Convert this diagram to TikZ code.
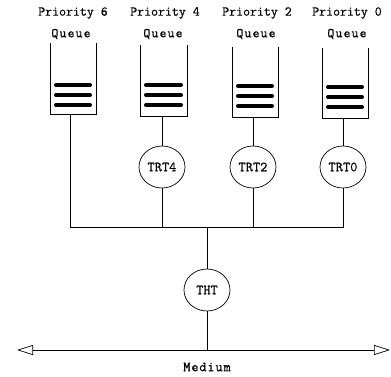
\documentclass[tikz,border=0pt]{standalone}
\usepackage{fontspec}
\newfontfamily\labfont[FakeBold=0.4]{Latin Modern Mono}
\newfontfamily\medfont[LetterSpace=6,FakeBold=0.4]{Latin Modern Mono}
\newfontfamily\qfont[LetterSpace=8,FakeBold=0.4]{Latin Modern Mono}
\usetikzlibrary{arrows.meta,shapes.geometric}
\begin{document}
\begin{tikzpicture}[x=1pt,y=-1pt,line width=0.7pt,
  timer/.style={draw,ellipse,minimum width=46pt,minimum height=42pt,inner sep=0pt,font=\labfont\fontsize{14}{14}\selectfont},
  lab/.style={font=\labfont\fontsize{13.5}{14}\selectfont,inner sep=0pt},
  qlab/.style={font=\qfont\fontsize{13.5}{14}\selectfont,inner sep=0pt},
  medlab/.style={font=\medfont\fontsize{14}{14}\selectfont,inner sep=0pt},
  qbar/.style={line width=4pt,line cap=round},
  qwall/.style={line width=0.7pt}]
\useasboundingbox (0,0) rectangle (391,377);
% labels
\node[lab] (p6) at (73,13) {Priority 6};
\node[lab] (p4) at (165,13) {Priority 4};
\node[lab] (p2) at (257,13) {Priority 2};
\node[lab] (p0) at (347,13) {Priority 0};
\node[qlab] (l6) at (71,34) {Queue};
\node[qlab] (l4) at (163,34) {Queue};
\node[qlab] (l2) at (256,34) {Queue};
\node[qlab] (l0) at (347,34) {Queue};
% queues: left, right, top, bottom, first bar y, stem x
\foreach \l/\r/\t/\b/\y/\n/\sx in {50/96/43/114/85/q6/70, 140/187/45/116/85/q4/162, 232/278/47/117/86/q2/253, 322/368/48/118/87/q0/343}{
  \draw[qwall] (\l,\t) -- (\l,\b) -- (\r,\b) -- (\r,\t);
  \foreach \k in {0,1,2}{
    \draw[qbar] (\l+6,\y+\k*10) -- (\r-6,\y+\k*10);
  }
  \coordinate (\n) at (\sx,\b);
}
% timers
\node[timer] (trt4) at (162,167) {TRT4};
\node[timer] (trt2) at (253,167) {TRT2};
\node[timer] (trt0) at (343,167) {TRT0};
\node[timer] (tht) at (207,290) {THT};
% bus
\coordinate (b6) at (70,227);
\coordinate (b0) at (343,227);
\coordinate (bj) at (207,227);
\draw (q6) -- (b6) -- (b0) -- (trt0.south);
\draw (q4) -- (trt4.north);
\draw (q2) -- (trt2.north);
\draw (q0) -- (trt0.north);
\draw (trt4.south) -- (trt4.south |- b6);
\draw (trt2.south) -- (trt2.south |- b6);
\draw (bj) -- (tht.north);
% medium
\coordinate (ml) at (17,350);
\coordinate (mr) at (390,350);
\draw[{Triangle[open,length=16pt,width=10pt]}-{Triangle[open,length=16pt,width=10pt]}] (ml) -- (mr);
\draw (tht.south) -- (tht.south |- ml);
\node[medlab] (med) at (207,367) {Medium};
\end{tikzpicture}
\end{document}
